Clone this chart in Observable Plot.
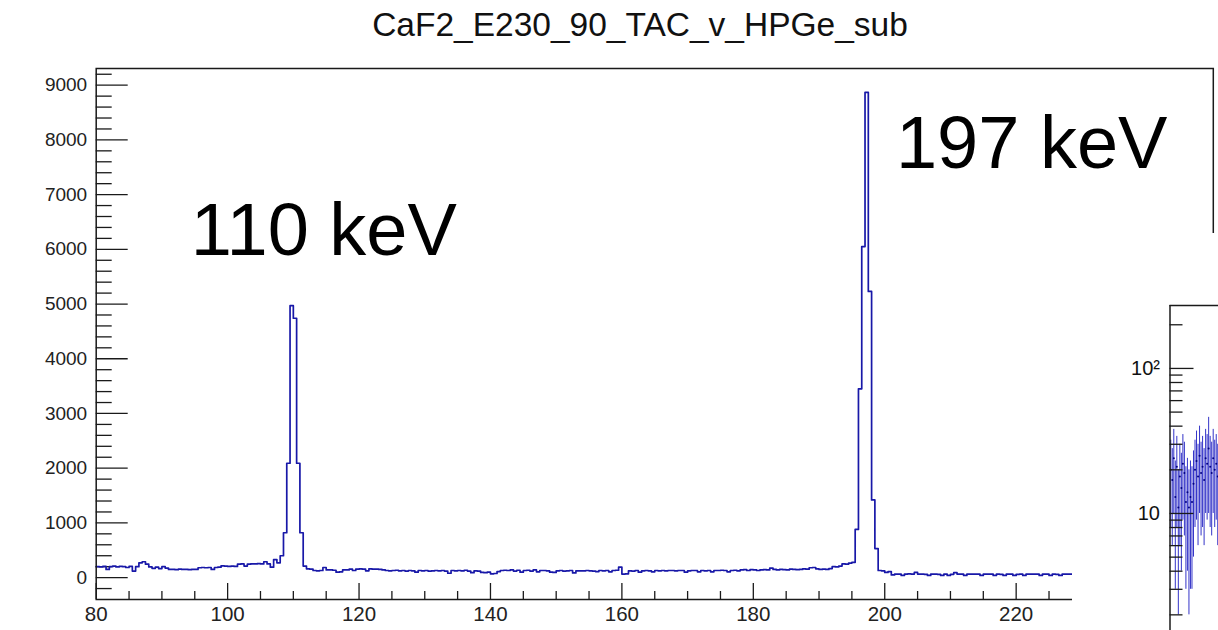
<!DOCTYPE html>
<html><head><meta charset="utf-8">
<script src="https://cdn.jsdelivr.net/npm/d3@7"></script>
<script src="https://cdn.jsdelivr.net/npm/@observablehq/plot@0.6"></script>
<style>
html,body{margin:0;padding:0;background:#fff;overflow:hidden;}
#root{position:relative;width:1218px;height:630px;overflow:hidden;background:#fff;font-family:"Liberation Sans",Arial,Helvetica,sans-serif;}
#title{position:absolute;left:0;top:0;width:1280px;height:40px;text-align:center;font-size:33.5px;line-height:1;color:#111;padding-top:8px;box-sizing:border-box;white-space:nowrap;}
#main{position:absolute;left:0;top:40px;}
#inset{position:absolute;left:1072px;top:233px;width:146px;height:397px;background:#fff;overflow:hidden;}
</style></head>
<body><div id="root"><div id="title"></div><div id="main"></div><div id="inset"></div></div>
<script>
// ---------------- data ----------------
const chartTitle = "CaF2_E230_90_TAC_v_HPGe_sub";
const binStart = 80;      // keV, lower edge of first bin
const binWidth = 0.5;     // keV

// counts per bin, 80.0 – 107.5 keV
const countsLow = [200,195,205,150,200,210,195,205,200,185,
  205,120,200,270,290,245,195,170,190,165,
  200,175,150,150,145,155,150,150,145,150,
  150,180,185,180,185,150,185,190,215,210,
  205,210,205,245,250,210,245,250,250,255,
  250,290,250,190,330,270];
// 108.0 – 111.5 keV (110 keV peak)
const counts110 = [400,820,2090,4970,4740,2090,820,210];
// 112.0 – 123.5 keV
const countsMid1 = [160,155,130,125,130,185,140,140,135,100,
  105,140,140,155,130,155,160,155,125,160,155,155,150,140];
// 124.0 – 195.0 keV
const countsMid2 = [130,125,130,135,125,130,120,130,125,100,
  130,125,130,120,125,130,125,130,120,80,
  130,125,130,125,135,120,90,125,120,95,
  90,100,70,75,110,130,135,130,140,120,
  135,100,130,135,120,140,105,130,130,125,
  100,95,125,130,120,125,130,85,125,125,
  125,130,125,120,110,130,125,130,105,130,
  135,190,65,70,125,120,130,100,125,130,
  125,105,130,125,130,125,130,130,125,130,
  130,100,125,130,130,105,130,125,130,105,
  130,130,135,130,105,130,135,125,140,145,
  130,145,140,130,140,145,140,175,150,140,
  150,145,140,155,150,145,150,160,155,180,
  185,160,150,155,150,165,200,195,210,250,
  245,265,280];
// 195.5 – 199.0 keV (197 keV peak)
const counts197 = [880,3450,6050,8870,5230,1420,530,130];
// 199.5 – 228.0 keV
const countsHigh = [125,95,110,50,65,65,40,65,70,65,
  95,65,65,60,40,65,65,60,40,65,
  40,60,90,65,65,40,65,65,65,65,
  40,65,65,65,40,65,60,40,65,65,
  40,60,65,40,65,65,65,65,40,65,
  65,40,65,60,40,65,65,65];

const yMajorTicks = [0,1000,2000,3000,4000,5000,6000,7000,8000,9000];
const xMajorTicks = [80,100,120,140,160,180,200,220,240];

const peakLabels = ["110 keV","197 keV"];
const peakLabelKeV = [94.4, 201.7];
const peakLabelCounts = [5890, 7480];

// inset (log-scale zoom, partly visible)
const insetCounts = [20,17,24,13,21,11,18,15,22,19,12,14,11,13,12,16,
  20,23,18,25,19,21,17,24,22,28,21,19,24,20,22,18];
const insetErrors = [12,11,14,10,13,9,12,11,13,12,9,10,9,10,9,11,
  12,14,12,15,12,13,11,14,13,18,13,12,14,12,13,12];
const insetTickValues = [10,100];
const insetTickLabels = ["10","10\u00b2"];
const insetMinorTicks = [2,3,4,5,6,7,8,9,20,30,40,50,60,70,80,90,200];

// ---------------- build ----------------
document.getElementById("title").textContent = chartTitle;

const counts = [].concat(countsLow, counts110, countsMid1, countsMid2, counts197, countsHigh);
const steps = counts.map((c, i) => ({x: binStart + i * binWidth, y: c}));
steps.push({x: binStart + counts.length * binWidth, y: counts[counts.length - 1]});

const peaks = peakLabels.map((t, i) => ({text: t, x: peakLabelKeV[i], y: peakLabelCounts[i]}));

const yDomain = [-400, 9305];
const xDomain = [80, 250];
const yMinor = d3.range(-200, 9305, 200).filter(v => v % 1000 !== 0);
const xMinor = d3.range(85, 250, 5).filter(v => v % 20 !== 0);

const W = 1218, H = 590, mL = 95.7, mR = 5.2, mT = 28, mB = 31;
const innerW = W - mL - mR, innerH = H - mT - mB;
const axisColor = "#1a1a1a";
const font = "'Liberation Sans', Arial, Helvetica, sans-serif";

const main = Plot.plot({
  width: W, height: H,
  marginLeft: mL, marginRight: mR, marginTop: mT, marginBottom: mB,
  style: {fontFamily: font, background: "transparent", overflow: "visible"},
  x: {domain: xDomain},
  y: {domain: yDomain},
  marks: [
    Plot.tickY(yMinor, {y: d => d, insetRight: innerW - 16, stroke: axisColor, strokeWidth: 1.3}),
    Plot.tickY(yMajorTicks, {y: d => d, insetRight: innerW - 32, stroke: axisColor, strokeWidth: 1.3}),
    Plot.tickX(xMinor, {x: d => d, insetTop: innerH - 8, stroke: axisColor, strokeWidth: 1.3}),
    Plot.tickX(xMajorTicks, {x: d => d, insetTop: innerH - 16, stroke: axisColor, strokeWidth: 1.3}),
    Plot.axisY(yMajorTicks, {tickSize: 0, tickPadding: 9, label: null, fontSize: 19, color: "#222", tickFormat: d => String(d)}),
    Plot.axisX(xMajorTicks, {tickSize: 0, tickPadding: 7, label: null, fontSize: 20.5, color: "#222", tickFormat: d => String(d)}),
    Plot.line(steps, {x: "x", y: "y", curve: "step-after", stroke: "#1818a8", strokeWidth: 1.7}),
    Plot.frame({stroke: axisColor, strokeWidth: 1.5}),
    Plot.text(peaks, {x: "x", y: "y", text: "text", textAnchor: "start", lineAnchor: "bottom", fontSize: 74, fill: "#000"})
  ]
});
document.getElementById("main").appendChild(main);

// inset
const iW = 146, iH = 397, imL = 97.5, imT = 72;
const insetInnerW = iW - imL;
const insetBins = insetCounts.map((v, i) => ({
  x: i + 0.5, v, lo: Math.max(v - insetErrors[i], 1), hi: v + insetErrors[i]
}));
const insetLabels = insetTickValues.map((v, i) => ({v, t: insetTickLabels[i]}));
const insetTop = 271.6;
const inset = Plot.plot({
  width: iW, height: iH,
  marginLeft: imL, marginRight: 0, marginTop: imT, marginBottom: 0,
  style: {fontFamily: font, background: "#fff", overflow: "visible"},
  x: {domain: [0, insetCounts.length], axis: null},
  y: {type: "log", domain: [1.56, insetTop], axis: null},
  marks: [
    Plot.ruleX(insetBins, {x: "x", y1: "lo", y2: "hi", stroke: "#3434c8", strokeWidth: 1, clip: true}),
    Plot.dot(insetBins, {x: "x", y: "v", r: 1, fill: "#000080", clip: true}),
    Plot.tickY(insetMinorTicks, {y: d => d, insetRight: insetInnerW - 13, stroke: axisColor, strokeWidth: 1.3}),
    Plot.tickY(insetTickValues, {y: d => d, insetRight: insetInnerW - 24, stroke: axisColor, strokeWidth: 1.3}),
    Plot.text(insetLabels, {y: "v", text: "t", frameAnchor: "left", dx: -10, textAnchor: "end", fontSize: 20, fill: "#111"}),
    Plot.ruleX([0], {stroke: axisColor, strokeWidth: 1.5}),
    Plot.ruleY([insetTop], {stroke: axisColor, strokeWidth: 1.5})
  ]
});
document.getElementById("inset").appendChild(inset);
</script></body></html>
